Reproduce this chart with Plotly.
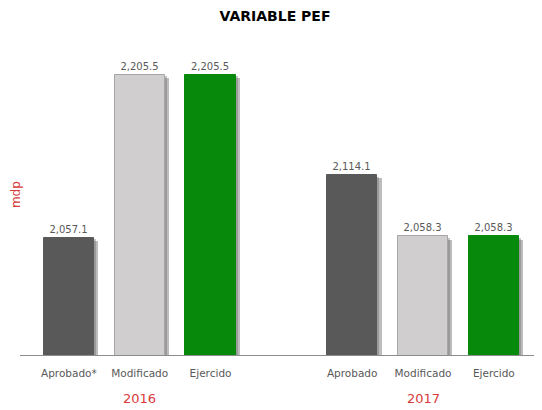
import plotly.graph_objects as go

# datos
categorias = ["Aprobado*", "Modificado", "Ejercido", "Aprobado", "Modificado", "Ejercido"]
posiciones = [0, 1, 2, 4, 5, 6]
valores = [2057.1, 2205.5, 2205.5, 2114.1, 2058.3, 2058.3]
colores = ["#595959", "#d0cece", "#078a0c", "#595959", "#d0cece", "#078a0c"]
bordes = ["#595959", "#a6a6a6", "#078a0c", "#595959", "#a6a6a6", "#078a0c"]
anios = ["2016", "2017"]
anio_pos = [1, 5]

fuente = "DejaVu Sans"
gris = "#595959"
rojo = "#d83b3b"

fig = go.Figure()

# sombra de las barras
fig.add_trace(go.Bar(
    x=[p + 0.06 for p in posiciones],
    y=[v - 3 for v in valores],
    width=0.71,
    marker=dict(color="rgba(90,90,90,0.4)", line=dict(width=0)),
    hoverinfo="skip",
    showlegend=False,
))
fig.add_trace(go.Bar(
    x=[p + 0.03 for p in posiciones],
    y=[v - 1.5 for v in valores],
    width=0.71,
    marker=dict(color="rgba(90,90,90,0.35)", line=dict(width=0)),
    hoverinfo="skip",
    showlegend=False,
))

fig.add_trace(go.Bar(
    x=posiciones,
    y=valores,
    width=0.71,
    marker=dict(color=colores, line=dict(color=bordes, width=1)),
    texttemplate="%{y:,.1f}",
    textposition="outside",
    textfont=dict(family=fuente, size=10, color=gris),
    cliponaxis=False,
    showlegend=False,
))

for a, p in zip(anios, anio_pos):
    fig.add_annotation(
        x=p, y=-0.131, xref="x", yref="paper", yanchor="middle",
        text=a, showarrow=False,
        font=dict(family=fuente, size=13, color=rojo),
    )

fig.add_annotation(
    x=0, y=0.486, xref="paper", yref="paper",
    xanchor="center", yanchor="middle", textangle=-90, xshift=-4,
    text="mdp", showarrow=False,
    font=dict(family=fuente, size=12, color=rojo),
)

# la página añade 8 px de margen al cuerpo
fig.update_layout(
    title=dict(text="<b>VARIABLE PEF</b>", x=0.5, y=1.0, xanchor="center", yanchor="top",
               pad=dict(t=3),
               font=dict(family=fuente, size=14, color="#000000")),
    barmode="overlay",
    bargap=0,
    width=534,
    height=402,
    margin=dict(l=12, r=0, t=18, b=55, autoexpand=False),
    plot_bgcolor="white",
    paper_bgcolor="white",
    xaxis=dict(
        range=[-0.69, 6.68],
        tickvals=posiciones,
        ticktext=categorias,
        tickfont=dict(family=fuente, size=10.5, color=gris),
        showgrid=False,
        zeroline=False,
        showline=True,
        linecolor="#8c8c8c",
        linewidth=1,
        ticks="outside",
        ticklen=8,
        tickcolor="white",
        automargin=False,
    ),
    yaxis=dict(
        range=[1950, 2250],
        showgrid=False,
        zeroline=False,
        showticklabels=False,
        automargin=False,
    ),
)

fig.write_html("out.html")
